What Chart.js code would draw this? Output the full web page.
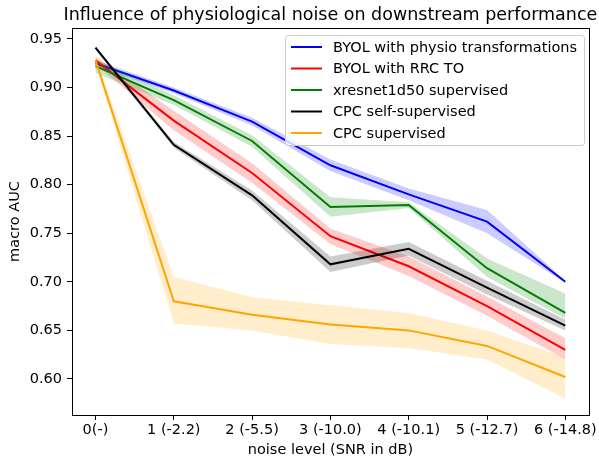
<!DOCTYPE html>
<html>
<head>
<meta charset="utf-8">
<script src="https://cdn.jsdelivr.net/npm/chart.js@4"></script>
<style>
  html, body { margin: 0; padding: 0; background: #fff; }
  #wrap { width: 599px; height: 459px; }
</style>
</head>
<body>
<div id="wrap"><canvas id="chart" width="599" height="459"></canvas></div>
<script>
const categories = ['0(-)', '1 (-2.2)', '2 (-5.5)', '3 (-10.0)', '4 (-10.1)', '5 (-12.7)', '6 (-14.8)'];
const yTicks = [0.60, 0.65, 0.70, 0.75, 0.80, 0.85, 0.90, 0.95];

// mean lines
const byolPhysio = [0.925, 0.897, 0.865, 0.820, 0.790, 0.762, 0.700];
const byolRrc = [0.928, 0.866, 0.812, 0.747, 0.716, 0.675, 0.630];
const xresnet = [0.922, 0.887, 0.845, 0.777, 0.779, 0.714, 0.668];
const cpcSelf = [0.941, 0.841, 0.789, 0.718, 0.734, 0.694, 0.655];
const cpcSup = [0.928, 0.680, 0.666, 0.656, 0.650, 0.634, 0.602];

// shaded bands (lower / upper)
const byolPhysioLo = [0.922, 0.894, 0.861, 0.814, 0.784, 0.750, 0.699];
const byolPhysioHi = [0.928, 0.900, 0.869, 0.826, 0.796, 0.774, 0.701];
const byolRrcLo = [0.924, 0.856, 0.802, 0.739, 0.706, 0.665, 0.620];
const byolRrcHi = [0.932, 0.876, 0.822, 0.755, 0.726, 0.685, 0.642];
const xresnetLo = [0.915, 0.882, 0.839, 0.767, 0.776, 0.705, 0.662];
const xresnetHi = [0.929, 0.892, 0.851, 0.787, 0.782, 0.724, 0.688];
const cpcSelfLo = [0.939, 0.838, 0.784, 0.710, 0.727, 0.687, 0.650];
const cpcSelfHi = [0.943, 0.844, 0.794, 0.726, 0.741, 0.701, 0.661];
const cpcSupLo = [0.924, 0.657, 0.650, 0.636, 0.632, 0.620, 0.580];
const cpcSupHi = [0.932, 0.705, 0.684, 0.676, 0.668, 0.650, 0.622];

const series = [
    { label: 'BYOL with physio transformations', line: byolPhysio, lo: byolPhysioLo, hi: byolPhysioHi, color: '#0000ff', band: 'rgba(0,0,255,0.2)' },
    { label: 'BYOL with RRC TO', line: byolRrc, lo: byolRrcLo, hi: byolRrcHi, color: '#ff0000', band: 'rgba(255,0,0,0.2)' },
    { label: 'xresnet1d50 supervised', line: xresnet, lo: xresnetLo, hi: xresnetHi, color: '#008000', band: 'rgba(0,128,0,0.2)' },
    { label: 'CPC self-supervised', line: cpcSelf, lo: cpcSelfLo, hi: cpcSelfHi, color: '#000000', band: 'rgba(0,0,0,0.2)' },
    { label: 'CPC supervised', line: cpcSup, lo: cpcSupLo, hi: cpcSupHi, color: '#ffa500', band: 'rgba(255,165,0,0.2)' }
];

const toPoints = arr => arr.map((v, i) => ({ x: i, y: v }));
const FONT = 'DejaVu Sans';
const FS = 14.5;

const datasets = [];
series.forEach((s, k) => {
    const base = 100 - k * 10;
    datasets.push({
        label: '_lo', data: toPoints(s.lo), borderWidth: 0, pointRadius: 0,
        fill: false, order: base, borderColor: 'rgba(0,0,0,0)'
    });
    datasets.push({
        label: '_hi', data: toPoints(s.hi), borderWidth: 0, pointRadius: 0,
        fill: '-1', backgroundColor: s.band, order: base, borderColor: 'rgba(0,0,0,0)'
    });
    datasets.push({
        label: s.label, data: toPoints(s.line), borderColor: s.color, borderWidth: 2,
        pointRadius: 0, fill: false, tension: 0, order: base - 5
    });
});

// title, frame and matplotlib-style legend drawn inside the axes
const decorations = {
    id: 'decorations',
    afterDraw(chart) {
        const ctx = chart.ctx;
        const a = chart.chartArea;
        ctx.save();
        ctx.strokeStyle = '#000';
        ctx.lineWidth = 1;
        ctx.strokeRect(Math.round(a.left) + 0.5, Math.round(a.top) + 0.5,
            Math.round(a.right - a.left), Math.round(a.bottom - a.top));

        ctx.fillStyle = '#000';
        ctx.font = '17.5px ' + FONT;
        ctx.textAlign = 'center';
        ctx.textBaseline = 'middle';
        ctx.fillText('Influence of physiological noise on downstream performance', (a.left + a.right) / 2, 15);

        // legend
        const bx = 285, by = 35, bw = 299, bh = 110;
        ctx.beginPath();
        ctx.roundRect(bx + 0.5, by + 0.5, bw, bh, 3);
        ctx.fillStyle = 'rgba(255,255,255,0.8)';
        ctx.fill();
        ctx.strokeStyle = '#cccccc';
        ctx.stroke();
        ctx.font = FS + 'px ' + FONT;
        ctx.textAlign = 'left';
        series.forEach((s, i) => {
            const y = 47 + i * 21.5;
            ctx.beginPath();
            ctx.moveTo(291, y);
            ctx.lineTo(322, y);
            ctx.strokeStyle = s.color;
            ctx.lineWidth = 2;
            ctx.stroke();
            ctx.fillStyle = '#000';
            ctx.fillText(s.label, 333, y + 1);
        });
        ctx.restore();
    }
};

new Chart(document.getElementById('chart'), {
    type: 'line',
    data: { datasets: datasets },
    options: {
        responsive: false,
        animation: false,
        layout: { padding: { top: 28, right: 8, left: 4, bottom: 0 } },
        plugins: {
            legend: { display: false },
            title: { display: false },
            tooltip: { enabled: false }
        },
        scales: {
            x: {
                type: 'linear',
                min: -0.3,
                max: 6.3,
                afterBuildTicks: scale => { scale.ticks = categories.map((c, i) => ({ value: i })); },
                afterFit: scale => { scale.height = 44; },
                ticks: {
                    color: '#000',
                    font: { family: FONT, size: FS },
                    padding: 2,
                    maxRotation: 0,
                    autoSkip: false,
                    callback: v => categories[v]
                },
                grid: { drawOnChartArea: false, tickLength: 5, color: '#000' },
                border: { color: '#000' },
                title: {
                    display: true, text: 'noise level (SNR in dB)', color: '#000',
                    font: { family: FONT, size: FS }, padding: { top: 0, bottom: 0 }
                }
            },
            y: {
                min: 0.5629,
                max: 0.9613,
                afterBuildTicks: scale => { scale.ticks = yTicks.map(v => ({ value: v })); },
                afterFit: scale => { scale.width = 68; },
                ticks: {
                    color: '#000',
                    font: { family: FONT, size: FS },
                    padding: 5,
                    callback: v => v.toFixed(2)
                },
                grid: { drawOnChartArea: false, tickLength: 5, color: '#000' },
                border: { color: '#000' },
                title: {
                    display: true, text: 'macro AUC', color: '#000',
                    font: { family: FONT, size: FS }, padding: { top: 3, bottom: 0 }
                }
            }
        }
    },
    plugins: [decorations]
});
</script>
</body>
</html>
